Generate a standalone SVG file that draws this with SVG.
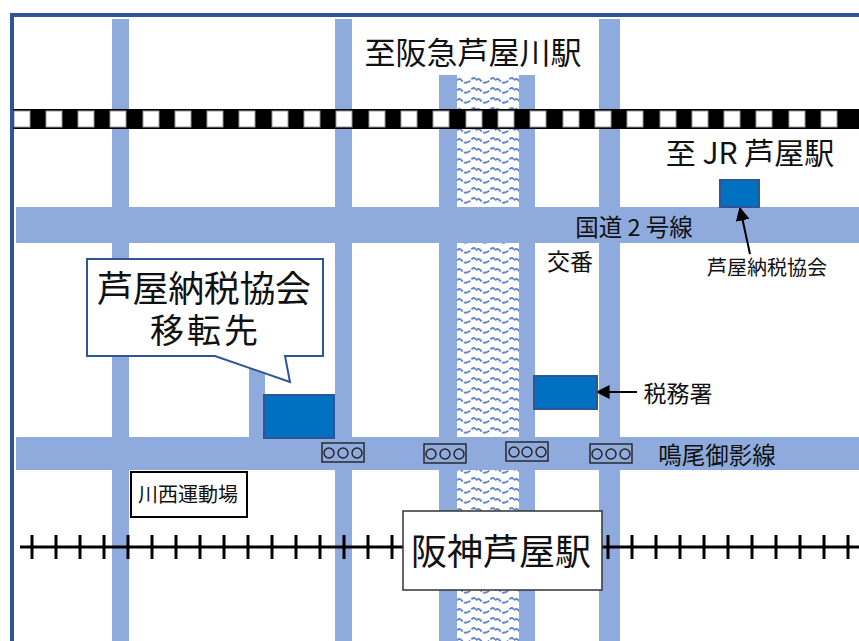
<svg xmlns="http://www.w3.org/2000/svg" width="859" height="641" viewBox="0 0 859 641">
<style>
.road{fill:#8faadc}
.bld{fill:#0070c0;stroke:#2f5597;stroke-width:2}
.t{font-family:"Noto Sans CJK JP","Noto Sans",sans-serif;fill:#111;text-anchor:middle}
.sig{fill:none;stroke:#222;stroke-width:1.4}
.tie{stroke:#000;stroke-width:3}
</style>
<defs>
<pattern id="wave" x="457" y="77" width="19" height="10" patternUnits="userSpaceOnUse">
<path d="M0 3.500q2.400-3 4.800 0t4.700 2q2.400 0 4.800-3t4.700 0" fill="none" stroke="#6687c6" stroke-width="2" stroke-dasharray="7 1.500"/>
</pattern>
<marker id="arrow" viewBox="0 0 10 10" refX="9" refY="5" markerWidth="7" markerHeight="7" orient="auto"><path d="M0 0L10 5L0 10z" fill="#000"/></marker>
</defs>
<rect width="859" height="641" fill="#fff"/>
<path d="M12 641V15H859" fill="none" stroke="#2f5597" stroke-width="4"/>
<g id="roads">
<rect class="road" x="112" y="19" width="17" height="622"/>
<rect class="road" x="335" y="19" width="17" height="622"/>
<rect class="road" x="599" y="19" width="21" height="622"/>
<rect class="road" x="249" y="360" width="16" height="80"/>
<rect class="road" x="439" y="75" width="96" height="566"/>
<rect x="457" y="75" width="62" height="566" fill="#fff"/>
<rect x="457" y="75" width="62" height="566" fill="url(#wave)"/>
<rect class="road" x="16" y="207" width="843" height="36"/>
<rect class="road" x="16" y="437" width="843" height="33"/>
</g>
<g id="rail-top">
<rect x="13" y="109" width="846" height="20" fill="#000"/>
<g fill="#fff" stroke="#999" stroke-width="1">
<rect x="14" y="111" width="16" height="16"/><rect x="46" y="111" width="16" height="16"/><rect x="78" y="111" width="16" height="16"/><rect x="110" y="111" width="16" height="16"/><rect x="143" y="111" width="16" height="16"/><rect x="175" y="111" width="16" height="16"/><rect x="207" y="111" width="16" height="16"/><rect x="239" y="111" width="16" height="16"/><rect x="272" y="111" width="16" height="16"/><rect x="304" y="111" width="16" height="16"/><rect x="336" y="111" width="16" height="16"/><rect x="369" y="111" width="16" height="16"/><rect x="401" y="111" width="16" height="16"/><rect x="433" y="111" width="16" height="16"/><rect x="466" y="111" width="16" height="16"/><rect x="498" y="111" width="16" height="16"/><rect x="530" y="111" width="16" height="16"/><rect x="563" y="111" width="16" height="16"/><rect x="595" y="111" width="16" height="16"/><rect x="627" y="111" width="16" height="16"/><rect x="660" y="111" width="16" height="16"/><rect x="692" y="111" width="16" height="16"/><rect x="724" y="111" width="16" height="16"/><rect x="756" y="111" width="16" height="16"/><rect x="789" y="111" width="16" height="16"/><rect x="821" y="111" width="16" height="16"/>
</g>
</g>
<g id="rail-bottom">
<line class="tie" x1="20" y1="547" x2="859" y2="547"/>
<path class="tie" d="M32 535v24M56 535v24M80 535v24M104 535v24M128 535v24M152 535v24M176 535v24M200 535v24M224 535v24M248 535v24M272 535v24M296 535v24M320 535v24M344 535v24M368 535v24M392 535v24M608 535v24M632 535v24M656 535v24M680 535v24M704 535v24M728 535v24M752 535v24M776 535v24M800 535v24M824 535v24M848 535v24"/>
</g>
<g id="connectors">
<line x1="750" y1="254" x2="740" y2="208" stroke="#000" stroke-width="2" marker-end="url(#arrow)"/>
<line x1="637" y1="392" x2="597" y2="392" stroke="#000" stroke-width="2" marker-end="url(#arrow)"/>
</g>
<g id="node-kokudo"><text class="t" x="634" y="236" font-size="23.500">国道 2 号線</text></g>
<g id="node-koban"><text class="t" x="570" y="270" font-size="23">交番</text></g>
<g id="node-hankyu"><text class="t" x="473" y="64" font-size="31">至阪急芦屋川駅</text></g>
<g id="node-jr"><text class="t" x="750" y="164" font-size="30">至 JR 芦屋駅</text></g>
<g id="node-kyokai"><rect class="bld" x="720" y="180" width="39" height="27"/><text class="t" x="767" y="275" font-size="20">芦屋納税協会</text></g>
<g id="node-zeimusho"><rect class="bld" x="534" y="376" width="63" height="33"/><text class="t" x="678" y="402" font-size="23">税務署</text></g>
<g id="node-new"><rect class="bld" x="264" y="395" width="70" height="43"/></g>
<g id="node-callout"><path d="M87 259H323V356H285L290 382L215 356H87Z" fill="#fff" stroke="#2f5597" stroke-width="2"/><text class="t" x="204" y="302" font-size="36" textLength="214">芦屋納税協会</text><text class="t" x="204" y="343" font-size="34" textLength="108">移転先</text></g>
<g id="node-meibi"><text class="t" x="717" y="464" font-size="23.500">鳴尾御影線</text></g>
<g id="node-signal1"><rect class="sig" x="322" y="443" width="42" height="19"/><circle class="sig" cx="329" cy="453" r="5"/><circle class="sig" cx="343" cy="453" r="5"/><circle class="sig" cx="357" cy="453" r="5"/></g>
<g id="node-signal2"><rect class="sig" x="424" y="444" width="42" height="19"/><circle class="sig" cx="431" cy="454" r="5"/><circle class="sig" cx="445" cy="454" r="5"/><circle class="sig" cx="459" cy="454" r="5"/></g>
<g id="node-signal3"><rect class="sig" x="506" y="442" width="42" height="19"/><circle class="sig" cx="514" cy="452" r="5"/><circle class="sig" cx="527" cy="452" r="5"/><circle class="sig" cx="541" cy="452" r="5"/></g>
<g id="node-signal4"><rect class="sig" x="590" y="444" width="42" height="19"/><circle class="sig" cx="597" cy="454" r="5"/><circle class="sig" cx="611" cy="454" r="5"/><circle class="sig" cx="625" cy="454" r="5"/></g>
<g id="node-kawanishi"><rect x="131" y="472" width="116" height="45" fill="#fff" stroke="#000" stroke-width="2"/><text class="t" x="188" y="502" font-size="20">川西運動場</text></g>
<g id="node-hanshin"><rect x="403" y="511" width="199" height="79" fill="#fff" stroke="#333" stroke-width="1.500"/><text class="t" x="501" y="565" font-size="36">阪神芦屋駅</text></g>
</svg>
